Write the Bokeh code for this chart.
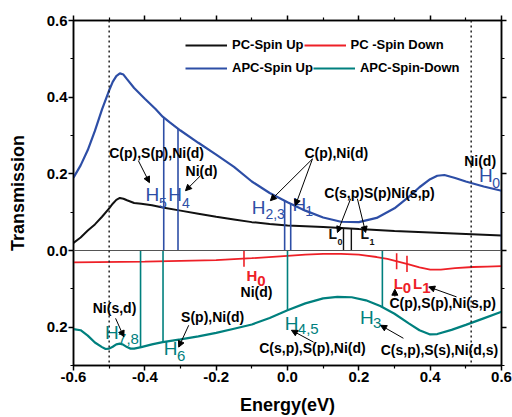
import numpy as np
from bokeh.plotting import figure
from bokeh.models import (Span, Arrow, NormalHead, Legend, LegendItem, LinearAxis,
                          FixedTicker, CustomJSTickFormatter, Range1d)
from bokeh.core.properties import value
from bokeh.embed import file_html
from bokeh.resources import INLINE

FONT = "Liberation Sans"

# ---- transmission spectra, energy in eV ----
pc_up_e = [-0.60, -0.58, -0.56, -0.54, -0.52, -0.50, -0.49, -0.48, -0.47, -0.46, -0.45,
           -0.43, -0.41, -0.38, -0.35, -0.30, -0.25, -0.20, -0.15, -0.10, -0.05, 0.00,
           0.05, 0.10, 0.15, 0.20, 0.30, 0.40, 0.50, 0.60]
pc_up_t = [0.020, 0.034, 0.052, 0.068, 0.088, 0.110, 0.122, 0.132, 0.137, 0.135, 0.131,
           0.124, 0.122, 0.118, 0.112, 0.104, 0.096, 0.088, 0.081, 0.074, 0.069, 0.065,
           0.063, 0.061, 0.059, 0.056, 0.051, 0.047, 0.043, 0.039]

# spin-down magnitudes (drawn mirrored below zero)
pc_dn_e = [-0.60, -0.40, -0.20, -0.10, 0.00, 0.05, 0.10, 0.15, 0.20, 0.25, 0.28, 0.31,
           0.34, 0.37, 0.40, 0.43, 0.47, 0.52, 0.56, 0.60]
pc_dn_t = [0.031, 0.029, 0.025, 0.020, 0.014, 0.011, 0.009, 0.009, 0.011, 0.017, 0.022,
           0.029, 0.036, 0.044, 0.050, 0.050, 0.046, 0.043, 0.042, 0.041]

apc_up_e = [-0.60, -0.58, -0.56, -0.54, -0.52, -0.50, -0.49, -0.48, -0.47, -0.46, -0.45,
            -0.43, -0.40, -0.37, -0.35, -0.33, -0.30, -0.25, -0.20, -0.15, -0.10, -0.05,
            0.00, 0.05, 0.10, 0.15, 0.20, 0.25, 0.30, 0.34, 0.37, 0.40, 0.42, 0.44, 0.47,
            0.50, 0.55, 0.60]
apc_up_t = [0.190, 0.222, 0.262, 0.312, 0.368, 0.418, 0.440, 0.455, 0.462, 0.459, 0.447,
            0.424, 0.396, 0.369, 0.349, 0.334, 0.313, 0.281, 0.250, 0.218, 0.180, 0.150,
            0.126, 0.104, 0.086, 0.075, 0.074, 0.085, 0.110, 0.140, 0.165, 0.186, 0.195,
            0.197, 0.189, 0.180, 0.167, 0.156]

apc_dn_e = [-0.60, -0.58, -0.56, -0.54, -0.52, -0.51, -0.50, -0.49, -0.48, -0.47, -0.46,
            -0.45, -0.44, -0.43, -0.41, -0.38, -0.35, -0.30, -0.25, -0.20, -0.15, -0.10,
            -0.05, 0.00, 0.05, 0.10, 0.14, 0.18, 0.22, 0.26, 0.30, 0.34, 0.37, 0.40, 0.42,
            0.46, 0.50, 0.55, 0.60]
apc_dn_t = [0.205, 0.208, 0.222, 0.240, 0.252, 0.257, 0.256, 0.251, 0.245, 0.243, 0.246,
            0.252, 0.256, 0.256, 0.252, 0.245, 0.239, 0.232, 0.224, 0.215, 0.204, 0.193,
            0.176, 0.156, 0.138, 0.125, 0.121, 0.122, 0.130, 0.145, 0.165, 0.190, 0.208,
            0.219, 0.218, 0.207, 0.194, 0.177, 0.160]

# transmission-peak energies (eV)
apc_up_levels = [-0.347, -0.307, -0.008, 0.009, 0.600]   # H5, H4, H2,3, H1, H0
apc_dn_levels = [-0.412, -0.349, 0.000, 0.266]          # H7,8, H6, H4,5, H3
pc_up_levels = [0.157, 0.179]                           # L0, L1
pc_dn_levels = [-0.122, 0.306, 0.335]                   # H0, L0, L1

x_ticks = [-0.6, -0.4, -0.2, 0.0, 0.2, 0.4, 0.6]
y_ticks = [-0.2, 0.0, 0.2, 0.4, 0.6]

BLACK, RED, BLUE, TEAL = "#111111", "#EE2027", "#2D4EA6", "#00807E"

p = figure(width=512, height=417, x_range=Range1d(-0.6, 0.6), y_range=Range1d(-0.3, 0.6),
           output_backend="svg", toolbar_location=None,
           min_border_left=73, min_border_right=11, min_border_top=20, min_border_bottom=52)
p.xgrid.visible = False
p.ygrid.visible = False
p.outline_line_color = "black"
p.outline_line_width = 1.5
p.background_fill_color = "white"

xt = FixedTicker(ticks=x_ticks, minor_ticks=[-0.5, -0.3, -0.1, 0.1, 0.3, 0.5])
yt = FixedTicker(ticks=y_ticks, minor_ticks=[-0.3, -0.1, 0.1, 0.3, 0.5])

def style_axis(ax, ticker, fmt):
    ax.ticker = ticker
    ax.formatter = CustomJSTickFormatter(code=fmt)
    ax.axis_line_width = 1.5
    ax.axis_line_color = "black"
    ax.major_tick_out = 5
    ax.major_tick_in = 0
    ax.minor_tick_out = 3
    ax.minor_tick_in = 0
    ax.major_tick_line_width = 1.5
    ax.minor_tick_line_width = 1.2
    ax.major_tick_line_color = "black"
    ax.minor_tick_line_color = "black"
    ax.major_label_text_font = FONT
    ax.major_label_text_font_style = "bold"
    ax.major_label_text_font_size = "15px"
    ax.major_label_text_color = "black"
    ax.major_label_standoff = 1

xa = p.xaxis[0]
ya = p.yaxis[0]
style_axis(xa, xt, "return tick.toFixed(1);")
style_axis(ya, yt, "return Math.abs(tick).toFixed(1);")
xa.axis_label = "Energy(eV)"
ya.axis_label = "Transmission"
for ax in (xa, ya):
    ax.axis_label_text_font = FONT
    ax.axis_label_text_font_style = "bold"
    ax.axis_label_text_font_size = "18px"
    ax.axis_label_text_color = "black"
    ax.axis_label_standoff = 10
ya.axis_label_standoff = 16

top = LinearAxis()
right = LinearAxis()
style_axis(top, xt, "return '';")
style_axis(right, yt, "return '';")
top.major_label_text_font_size = "0px"
right.major_label_text_font_size = "0px"
p.add_layout(top, "above")
p.add_layout(right, "right")

# reference lines
p.add_layout(Span(location=0.0, dimension="width", line_color="#555555", line_width=1.2))
for loc in (-0.5, 0.515):
    p.add_layout(Span(location=loc, dimension="height", line_color="#222222",
                      line_width=1.5, line_dash="2 3"))

# curves
pc_dn_neg = [-v for v in pc_dn_t]
apc_dn_neg = [-v for v in apc_dn_t]
r_pc_up = p.line(pc_up_e, pc_up_t, line_color=BLACK, line_width=2)
r_pc_dn = p.line(pc_dn_e, pc_dn_neg, line_color=RED, line_width=1.8)
r_apc_up = p.line(apc_up_e, apc_up_t, line_color=BLUE, line_width=2.2)
r_apc_dn = p.line(apc_dn_e, apc_dn_neg, line_color=TEAL, line_width=2.2)

# peak markers: vertical lines from zero to the curve
up_tops = np.interp(apc_up_levels, apc_up_e, apc_up_t)
p.segment(apc_up_levels, [0] * len(apc_up_levels), apc_up_levels, up_tops,
          line_color=BLUE, line_width=1.6)
dn_tops = -np.interp(apc_dn_levels, apc_dn_e, apc_dn_t)
p.segment(apc_dn_levels, [0] * len(apc_dn_levels), apc_dn_levels, dn_tops,
          line_color=TEAL, line_width=1.6)
pcu_tops = np.interp(pc_up_levels, pc_up_e, pc_up_t)
p.segment(pc_up_levels, [0] * len(pc_up_levels), pc_up_levels, pcu_tops,
          line_color=BLACK, line_width=1.4)
pcd_mid = -np.interp(pc_dn_levels, pc_dn_e, pc_dn_t)
p.segment(pc_dn_levels, pcd_mid + 0.021, pc_dn_levels, pcd_mid - 0.021,
          line_color=RED, line_width=1.6)

# legend, two rows
def make_legend(items, y):
    lg = Legend(items=items, orientation="horizontal", location=(112, y),
                spacing=0, padding=0, margin=0, glyph_width=42, glyph_height=14,
                label_height=14, label_standoff=5, border_line_color=None,
                background_fill_alpha=0, label_text_font=FONT,
                label_text_font_style="bold", label_text_font_size="13px",
                label_text_color="black")
    p.add_layout(lg)

make_legend([LegendItem(label="PC-Spin Up", renderers=[r_pc_up]),
             LegendItem(label="PC -Spin Down", renderers=[r_pc_dn])], 313)
make_legend([LegendItem(label="APC-Spin Up", renderers=[r_apc_up]),
             LegendItem(label="APC-Spin-Down", renderers=[r_apc_dn])], 290)

# orbital annotations
notes = [
    ("C(p),S(p),Ni(d)", -0.367, 0.255),
    ("Ni(d)", -0.241, 0.208),
    ("C(p),Ni(d)", 0.137, 0.255),
    ("C(s,p)S(p)Ni(s,p)", 0.258, 0.151),
    ("Ni(d)", 0.540, 0.234),
    ("Ni(d)", -0.087, -0.109),
    ("C(p),S(p),Ni(s,p)", 0.435, -0.136),
    ("C(s,p),S(p),Ni(d)", 0.070, -0.255),
    ("C(s,p),S(s),Ni(d,s)", 0.426, -0.260),
    ("Ni(s,d)", -0.485, -0.151),
    ("S(p),Ni(d)", -0.210, -0.174),
]
p.text([n[1] for n in notes], [n[2] for n in notes], text=[n[0] for n in notes],
       text_font=value(FONT), text_font_style="bold", text_font_size="14px",
       text_align="center", text_baseline="middle", text_color="black")

arrows = [
    (-0.418, 0.234, -0.387, 0.177),
    (-0.244, 0.195, -0.286, 0.156),
    (0.070, 0.239, -0.048, 0.130),
    (0.070, 0.239, 0.022, 0.117),
    (0.177, 0.135, 0.140, 0.047),
    (0.196, 0.135, 0.219, 0.047),
    (0.301, -0.120, 0.301, -0.101),
    (0.474, -0.121, 0.396, -0.095),
    (-0.482, -0.177, -0.459, -0.225),
    (-0.277, -0.195, -0.305, -0.252),
    (0.073, -0.239, 0.011, -0.208),
    (0.325, -0.229, 0.261, -0.195),
]
for x0, y0, x1, y1 in arrows:
    p.add_layout(Arrow(end=NormalHead(size=6, line_color="black", fill_color="black",
                                      line_width=1),
                       x_start=x0, y_start=y0, x_end=x1, y_end=y1,
                       line_color="black", line_width=1))

# level names with subscripts: (main, sub, x, y, sub x, sub y, color, sizes, style)
levels = [
    ("H", "5", -0.398, 0.145, -0.360, 0.125, BLUE, "19px", "14px", "normal"),
    ("H", "4", -0.334, 0.145, -0.296, 0.125, BLUE, "19px", "14px", "normal"),
    ("H", "2,3", -0.100, 0.111, -0.062, 0.095, BLUE, "19px", "14px", "normal"),
    ("H", "1", 0.014, 0.119, 0.050, 0.104, BLUE, "19px", "14px", "normal"),
    ("H", "0", 0.537, 0.195, 0.574, 0.177, BLUE, "19px", "14px", "normal"),
    ("H", "7,8", -0.512, -0.215, -0.475, -0.232, TEAL, "19px", "15px", "normal"),
    ("H", "6", -0.347, -0.255, -0.310, -0.275, TEAL, "19px", "15px", "normal"),
    ("H", "4,5", -0.008, -0.190, 0.029, -0.206, TEAL, "19px", "15px", "normal"),
    ("H", "3", 0.203, -0.176, 0.240, -0.189, TEAL, "19px", "15px", "normal"),
    ("H", "0", -0.115, -0.065, -0.085, -0.080, RED, "15px", "15px", "bold"),
    ("L", "0", 0.298, -0.085, 0.323, -0.099, RED, "15px", "15px", "bold"),
    ("L", "1", 0.352, -0.085, 0.378, -0.099, RED, "15px", "15px", "bold"),
    ("L", "0", 0.115, 0.042, 0.140, 0.021, BLACK, "14px", "9px", "bold"),
    ("L", "1", 0.205, 0.042, 0.230, 0.021, BLACK, "14px", "9px", "bold"),
]
for m, s, x, y, sx, sy, c, fm, fs, st in levels:
    p.text([x], [y], text=[m], text_font=value(FONT), text_font_style=st,
           text_font_size=fm, text_align="left", text_baseline="middle", text_color=c)
    p.text([sx], [sy], text=[s], text_font=value(FONT), text_font_style=st,
           text_font_size=fs, text_align="left", text_baseline="middle", text_color=c)

open("out.html", "w").write(file_html(p, INLINE))
